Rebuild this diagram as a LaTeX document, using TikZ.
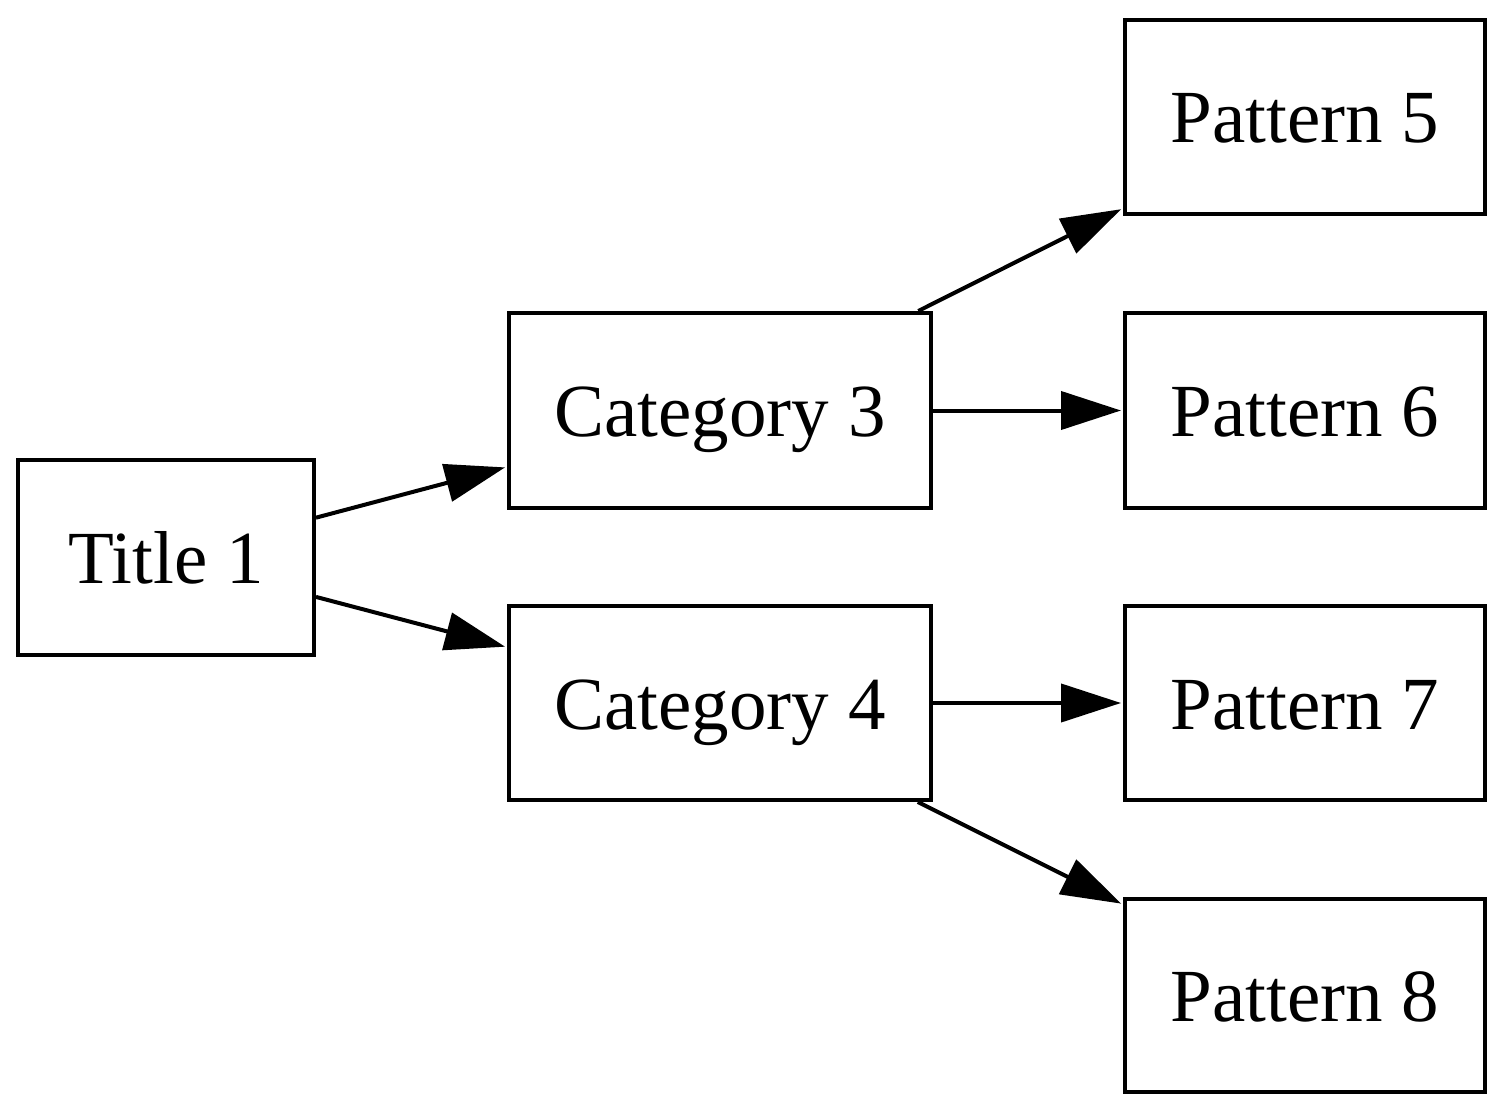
\documentclass[tikz,border=0pt]{standalone}
\usepackage{fontspec}
\setmainfont{Liberation Serif}
\usetikzlibrary{arrows.meta}
\begin{document}
\begin{tikzpicture}[x=1pt,y=-1pt,
  box/.style={draw, line width=4pt, inner sep=0pt, text height=52pt, text depth=0pt,
    font=\fontsize{75}{90}\selectfont},
  link/.style={line width=4pt, -{Triangle[length=60pt,width=38pt]}, shorten >=2pt}]
\useasboundingbox (0,0) rectangle (1507,1115);
\node[box, minimum width=296pt, minimum height=195pt] (t1) at (166,557.5) {Title 1};
\node[box, minimum width=422pt, minimum height=195pt] (c3) at (720,410.5) {Category 3};
\node[box, minimum width=422pt, minimum height=194pt] (c4) at (720,703) {Category 4};
\node[box, minimum width=360pt, minimum height=194pt] (p5) at (1305,117) {Pattern 5};
\node[box, minimum width=360pt, minimum height=195pt] (p6) at (1305,410.5) {Pattern 6};
\node[box, minimum width=360pt, minimum height=194pt] (p7) at (1305,703) {Pattern 7};
\node[box, minimum width=360pt, minimum height=193pt] (p8) at (1305,995.5) {Pattern 8};
\draw[link] (t1) -- (c3);
\draw[link] (t1) -- (c4);
\draw[link] (c3) -- (p5);
\draw[link] (c3) -- (p6);
\draw[link] (c4) -- (p7);
\draw[link] (c4) -- (p8);
\end{tikzpicture}
\end{document}
